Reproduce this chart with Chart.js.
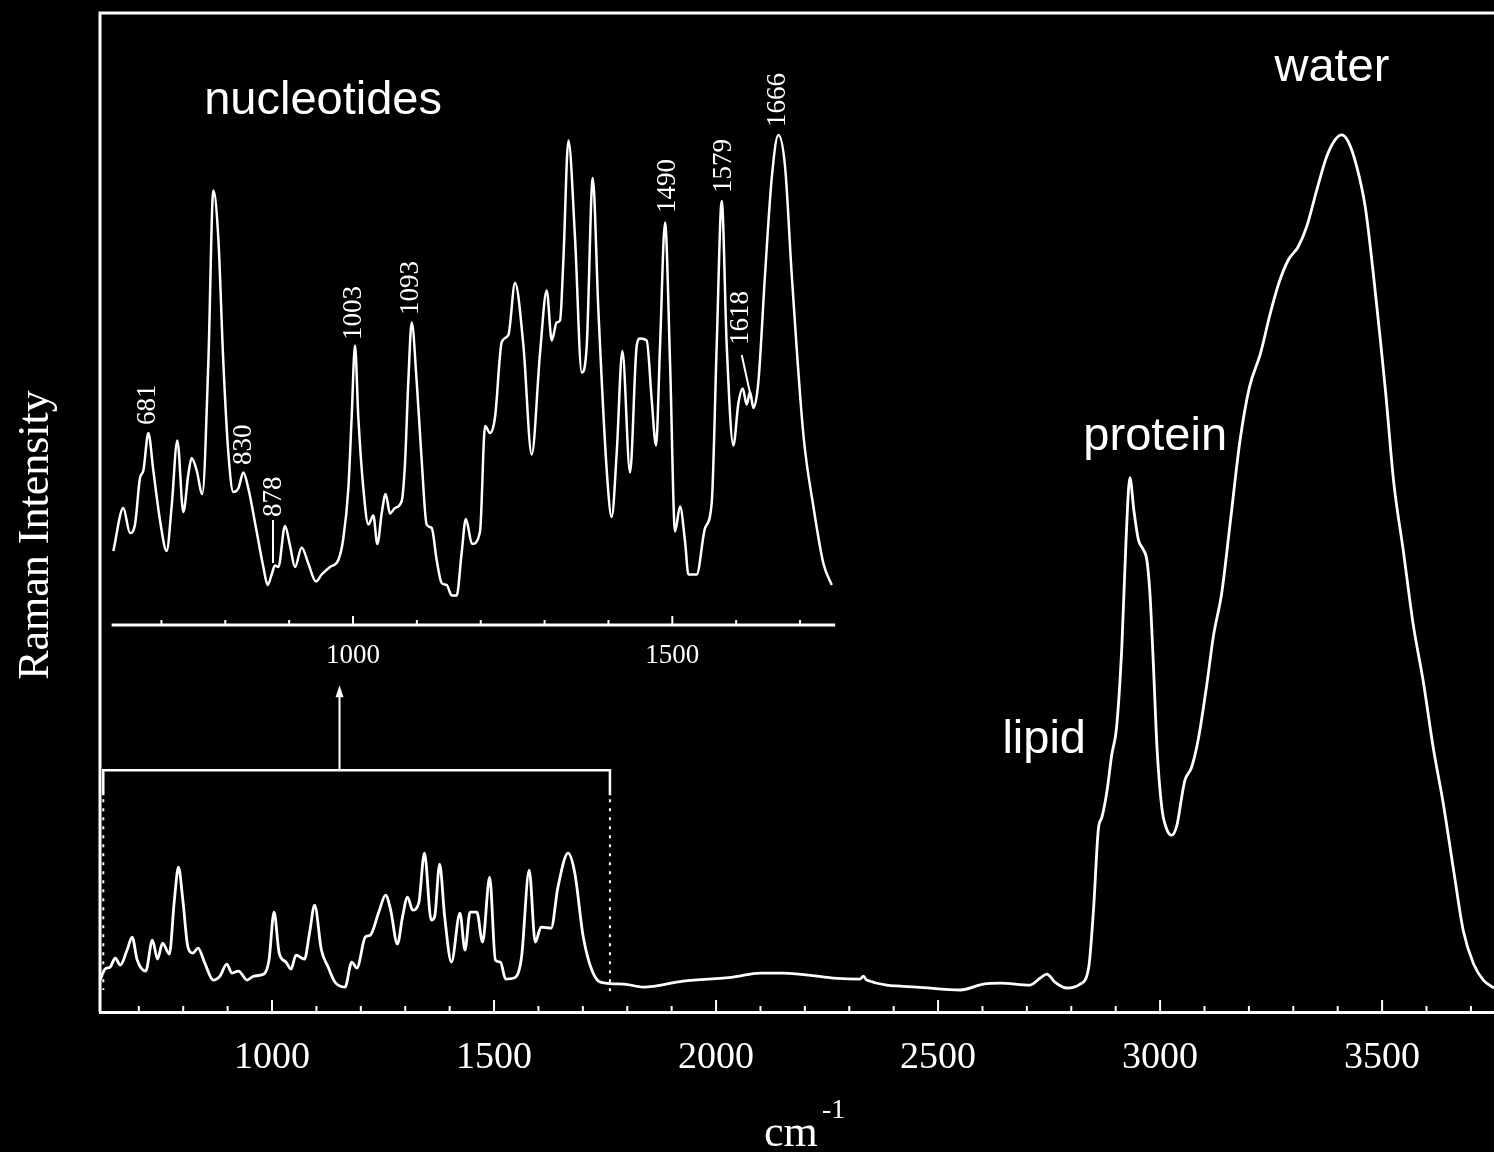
<!DOCTYPE html>
<html>
<head>
<meta charset="utf-8">
<script src="https://cdn.jsdelivr.net/npm/chart.js@4.4.1/dist/chart.umd.min.js"></script>
<style>
    html, body { margin: 0; padding: 0; background: #000; }
    #wrap { width: 1494px; height: 1152px; }
</style>
</head>
<body>
<div id="wrap"><canvas id="ramanChart" width="1494" height="1152"></canvas></div>
<script>
// full spectrum (cm-1 / relative intensity)
const mainWavenumber = [
    612.7, 624.1, 635.5, 647, 658.4, 673.6, 685, 696.4, 715.5, 730.7, 742.1, 753.5, 768.7, 780.1, 789.3, 799.2,
    810.6, 822, 833.4, 848.6, 867.6, 882.9, 898.1, 909.5, 924.7, 943.8, 959, 981.8, 993.2, 1004.6, 1016.1, 1031.3,
    1042.7, 1054.1, 1073.1, 1084.5, 1096, 1111.2, 1126.4, 1141.6, 1164.4, 1179.7, 1191.1, 1210.1, 1221.5, 1240.5,
    1255.8, 1267.2, 1282.4, 1293.8, 1305.2, 1316.7, 1330.4, 1343.3, 1358.5, 1366.1, 1377.5, 1388.9, 1404.1, 1423.2,
    1434.6, 1446, 1461.2, 1474.2, 1490.2, 1503.1, 1514.5, 1526, 1545, 1561.7, 1579.2, 1592.9, 1605.8, 1628.6, 1643.9,
    1666.7, 1681.9, 1701, 1727.6, 1750.4, 1792.2, 1836, 1926, 2039, 2099, 2152, 2264, 2324, 2332, 2339, 2452, 2550,
    2602, 2640, 2707, 2730, 2745, 2763, 2790, 2820, 2839, 2850, 2861, 2869, 2880, 2891, 2902, 2914, 2923, 2932, 2941,
    2951, 2962, 2970, 2977, 2985, 2993, 3004, 3015, 3026, 3038, 3049, 3056, 3071, 3086, 3105, 3120, 3139, 3158, 3180,
    3201, 3226, 3248, 3267, 3289, 3311, 3330, 3353, 3375, 3394, 3409, 3424, 3443, 3462, 3480, 3496, 3508, 3526, 3548,
    3570, 3593, 3615, 3638, 3661, 3683, 3706, 3728, 3752
];
const mainIntensity = [
    3.2, 4.3, 4.5, 5.4, 4.7, 6.2, 7.5, 5.2, 4.1, 7.2, 5.3, 6.9, 5.8, 11.2, 14.5, 11.2,
    6.5, 5.9, 6.4, 4.9, 3.2, 3.6, 4.8, 3.9, 4.1, 3.2, 3.6, 3.8, 5.2, 10.0, 5.9, 5.0,
    4.3, 5.7, 5.3, 7.9, 10.7, 6.2, 4.5, 3.0, 2.5, 5.0, 4.4, 7.5, 7.7, 10.0,
    11.7, 10.2, 6.8, 9.5, 11.5, 10.2, 10.9, 15.9, 9.2, 9.5, 14.8, 9.5, 5.0, 9.9,
    6.2, 10.0, 10.0, 7.0, 13.5, 5.2, 5.0, 3.3, 3.4, 5.4, 14.2, 7.0, 8.5, 8.4, 12.5,
    15.9, 13.9, 7.5, 3.5, 2.9, 2.8, 2.5, 3.1, 3.5, 3.9, 3.9, 3.4, 3.3, 3.6, 3.2, 2.5, 2.2,
    2.8, 2.9, 2.7, 3.4, 3.8, 3.0, 2.4, 2.8, 4.4, 10.2, 18.3, 19.5, 22.0, 25.7, 28.5, 36.7, 46.9, 53.5, 50.2,
    47.3, 46.3, 45.3, 42.0, 34.7, 26.5, 20.4, 18.3, 17.7, 18.7, 21.6, 23.2, 24.5, 27.3, 32.7, 37.6, 42.0, 49.0, 57.2,
    62.5, 65.9, 69.9, 72.9, 75.3, 76.6, 78.6, 82.3, 85.6, 87.3, 87.8, 87.1, 84.6, 80.6, 74.0, 67.3, 62.0, 53.1, 46.1,
    38.8, 33.0, 26.5, 20.8, 14.2, 8.1, 4.8, 3.2, 2.4
];

// enlarged nucleotide region (inset)
const insetWavenumber = [
    624.7, 640.3, 650.8, 658.6, 666.4, 671.7, 679.5, 687.3, 697.8, 708.2, 716.0, 724.9, 734.3, 742.1, 747.3, 755.2,
    764.0, 773.4, 781.3, 789.1, 797.0, 804.8, 812.6, 820.4, 828.3, 836.1, 849.1, 859.6, 866.4, 872.6, 877.8, 883.1,
    893.5, 901.3, 909.2, 919.6, 930.0, 942.0, 950.9, 964.0, 977.0, 984.8, 992.7, 997.9, 1003.1, 1008.3, 1016.2,
    1024.0, 1031.8, 1038.1, 1044.9, 1051.1, 1057.9, 1065.8, 1076.2, 1081.4, 1086.6, 1091.9, 1099.7, 1107.5, 1115.3,
    1123.2, 1131.0, 1138.8, 1146.7, 1154.5, 1162.3, 1170.1, 1176.7, 1186.5, 1198.9, 1206.8, 1214.6, 1222.4, 1232.9,
    1243.3, 1253.7, 1266.8, 1279.8, 1292.9, 1303.3, 1311.2, 1319.0, 1324.2, 1329.4, 1337.3, 1347.7, 1358.1, 1366.0,
    1375.4, 1384.2, 1397.3, 1405.1, 1412.9, 1421.8, 1433.8, 1444.3, 1449.5, 1459.9, 1467.7, 1474.5, 1480.8, 1488.6,
    1496.5, 1504.3, 1512.1, 1520.0, 1525.2, 1538.2, 1551.3, 1561.7, 1569.5, 1577.4, 1585.2, 1595.6, 1603.5, 1610.3,
    1616.5, 1621.7, 1627.0, 1634.8, 1645.2, 1655.7, 1666.1, 1676.6, 1687.0, 1705.3, 1720.9, 1736.6, 1749.6
];
const insetIntensity = [
    14.8, 23.4, 18.4, 20.1, 29.4, 30.9, 38.4, 30.9, 20.9, 14.8, 23.7, 36.9, 22.6, 30.1, 33.4, 30.9,
    26.2, 52.3, 86.9, 77.3, 52.3, 34.4, 26.6, 27.3, 30.5, 27.3, 18.7, 11.6, 8.0, 10.1, 11.9, 11.6,
    19.8, 15.9, 11.6, 15.5, 12.3, 8.7, 10.1, 11.6, 13.0, 17.3, 27.3, 41.6, 55.9, 41.6, 27.3,
    20.1, 21.9, 16.2, 22.3, 26.2, 22.3, 23.4, 24.8, 32.3, 48.7, 60.5, 48.7, 33.0, 20.1,
    19.4, 13.0, 8.4, 8.0, 5.9, 5.9, 14.4, 21.2, 16.2, 18.7, 39.8, 38.4, 41.6, 56.6,
    58.0, 68.4, 55.9, 34.1, 54.4, 66.9, 56.9, 60.5, 60.9, 73.0, 96.9, 77.3, 50.5, 55.9,
    89.4, 63.0, 30.9, 21.6, 34.4, 54.8, 30.5, 55.9, 57.3, 56.9, 45.1, 35.9, 55.9, 80.5,
    52.3, 18.7, 23.7, 16.6, 10.1, 10.1, 19.4, 24.4, 55.9, 84.8, 55.9, 35.9, 44.4, 47.3,
    44.1, 46.6, 43.4, 48.7, 70.1, 89.4, 98.0, 91.6, 70.1, 38.0, 23.7, 12.3, 8.0
];

// peak labels on the inset: text, wavenumber of the label, intensity where the text starts
const peakLabels = ['681', '830', '878', '1003', '1093', '1490', '1579', '1618', '1666'];
const peakLabelWn = [679, 829, 875.5, 1001.6, 1090.8, 1493, 1581, 1607.6, 1665.5];
const peakLabelLevel = [40, 32, 21.6, 57, 62, 82.4, 86.4, 56, 99.6];

// axis ticks
const mainTickLabels = [1000, 1500, 2000, 2500, 3000, 3500];
const mainMinorTicks = [700, 800, 900, 1100, 1200, 1300, 1400, 1600, 1700, 1800, 1900, 2100, 2200, 2300, 2400,
    2600, 2700, 2800, 2900, 3100, 3200, 3300, 3400, 3600, 3700];
const insetTickLabels = [1000, 1500];
const insetMinorTicks = [700, 800, 900, 1100, 1200, 1300, 1400, 1600, 1700];

// band names
const bandNames = ['nucleotides', 'water', 'protein', 'lipid'];
const bandWn = [1115, 3387, 2989, 2739];
const bandLevel = [91.2, 94.5, 57.6, 27.2];

const serif = '"Liberation Serif", "Times New Roman", serif';
const sans = '"Liberation Sans", Arial, sans-serif';

const mainPoints = mainWavenumber.map((v, i) => ({ x: v, y: mainIntensity[i] }));
const insetPoints = insetWavenumber.map((v, i) => ({ x: v, y: insetIntensity[i] }));

const overlay = {
    id: 'overlay',
    beforeDraw(chart) {
        const c = chart.ctx;
        c.save();
        c.fillStyle = '#000';
        c.fillRect(0, 0, chart.width, chart.height);
        c.restore();
    },
    afterDatasetsDraw(chart) {
        const c = chart.ctx;
        const a = chart.chartArea;
        const sx = chart.scales.x, sy = chart.scales.y;
        const ix = chart.scales.x2, iy = chart.scales.y2;
        c.save();
        c.strokeStyle = '#fff';
        c.fillStyle = '#fff';
        c.lineCap = 'butt';

        // frame (top + left)
        c.lineWidth = 3;
        c.beginPath();
        c.moveTo(a.left, a.bottom);
        c.lineTo(a.left, a.top);
        c.lineTo(a.right, a.top);
        c.stroke();

        // main ticks pointing inward
        c.lineWidth = 2;
        mainMinorTicks.concat(mainTickLabels).forEach(v => {
            const px = sx.getPixelForValue(v);
            const len = mainTickLabels.includes(v) ? 12 : 6;
            c.beginPath();
            c.moveTo(px, a.bottom);
            c.lineTo(px, a.bottom - len);
            c.stroke();
        });

        // inset axis
        const y0 = iy.getPixelForValue(0);
        c.lineWidth = 3;
        c.beginPath();
        c.moveTo(ix.getPixelForValue(622), y0);
        c.lineTo(ix.getPixelForValue(1755), y0);
        c.stroke();
        c.lineWidth = 2;
        insetMinorTicks.concat(insetTickLabels).forEach(v => {
            const px = ix.getPixelForValue(v);
            const len = insetTickLabels.includes(v) ? 9 : 5;
            c.beginPath();
            c.moveTo(px, y0);
            c.lineTo(px, y0 - len);
            c.stroke();
        });
        c.font = '27px ' + serif;
        c.textAlign = 'center';
        c.textBaseline = 'middle';
        insetTickLabels.forEach(v => c.fillText(String(v), ix.getPixelForValue(v), y0 + 31));

        // bracket marking the enlarged region + arrow
        const bl = sx.getPixelForValue(620), br = sx.getPixelForValue(1761);
        const bt = sy.getPixelForValue(24.2), bs = sy.getPixelForValue(21.7);
        c.lineWidth = 2.5;
        c.beginPath();
        c.moveTo(bl, bs);
        c.lineTo(bl, bt);
        c.lineTo(br, bt);
        c.lineTo(br, bs);
        c.stroke();
        c.setLineDash([3, 6]);
        c.lineWidth = 2;
        c.beginPath();
        c.moveTo(bl, bs + 4);
        c.lineTo(bl, sy.getPixelForValue(2.2));
        c.moveTo(br, bs + 4);
        c.lineTo(br, sy.getPixelForValue(1.7));
        c.stroke();
        c.setLineDash([]);
        const ax = sx.getPixelForValue(1152), at = sy.getPixelForValue(32.5);
        c.lineWidth = 2;
        c.beginPath();
        c.moveTo(ax, bt);
        c.lineTo(ax, at + 8);
        c.stroke();
        c.beginPath();
        c.moveTo(ax, at - 2);
        c.lineTo(ax + 4, at + 10);
        c.lineTo(ax - 4, at + 10);
        c.closePath();
        c.fill();

        // peak labels (rotated)
        c.font = '27px ' + serif;
        c.textAlign = 'left';
        c.textBaseline = 'middle';
        peakLabels.forEach((t, i) => {
            const px = ix.getPixelForValue(peakLabelWn[i]);
            const py = iy.getPixelForValue(peakLabelLevel[i]);
            c.save();
            c.translate(px, py);
            c.rotate(-Math.PI / 2);
            c.fillText(t, 0, 0);
            c.restore();
        });
        // leader lines for 878 and 1618
        c.lineWidth = 2;
        c.beginPath();
        c.moveTo(ix.getPixelForValue(874.7), iy.getPixelForValue(21));
        c.lineTo(ix.getPixelForValue(874.7), iy.getPixelForValue(12.4));
        c.moveTo(ix.getPixelForValue(1608.7), iy.getPixelForValue(54));
        c.lineTo(ix.getPixelForValue(1621.7), iy.getPixelForValue(46.4));
        c.stroke();

        // band names
        c.font = '47px ' + sans;
        c.textAlign = 'center';
        c.textBaseline = 'middle';
        bandNames.forEach((t, i) => {
            c.fillText(t, sx.getPixelForValue(bandWn[i]), sy.getPixelForValue(bandLevel[i]));
        });

        // axis titles
        c.font = '44px ' + serif;
        c.textAlign = 'left';
        c.textBaseline = 'alphabetic';
        c.fillText('cm', 764, 1146);
        c.font = '28px ' + serif;
        c.fillText('-1', 822, 1118);
        c.save();
        c.translate(48, 535);
        c.rotate(-Math.PI / 2);
        c.font = '44px ' + serif;
        c.textAlign = 'center';
        c.fillText('Raman Intensity', 0, 0);
        c.restore();

        c.restore();
    }
};

new Chart(document.getElementById('ramanChart'), {
    type: 'line',
    data: {
        datasets: [{
            data: mainPoints,
            xAxisID: 'x',
            yAxisID: 'y',
            borderColor: '#ffffff',
            borderWidth: 2.8,
            pointRadius: 0,
            fill: false,
            cubicInterpolationMode: 'monotone'
        }, {
            data: insetPoints,
            xAxisID: 'x2',
            yAxisID: 'y2',
            borderColor: '#ffffff',
            borderWidth: 2.5,
            pointRadius: 0,
            fill: false,
            cubicInterpolationMode: 'monotone'
        }]
    },
    options: {
        responsive: false,
        animation: false,
        devicePixelRatio: 1,
        layout: { padding: { left: 100, top: 13, right: 0, bottom: 0 } },
        plugins: { legend: { display: false }, tooltip: { enabled: false } },
        scales: {
            x: {
                type: 'linear',
                position: 'bottom',
                min: 612.6,
                max: 3752,
                grid: { display: false },
                border: { display: true, color: '#ffffff', width: 3 },
                afterBuildTicks: function (scale) {
                    scale.ticks = mainTickLabels.map(v => ({ value: v }));
                },
                afterFit: function (scale) {
                    scale.height = 140;
                },
                ticks: {
                    color: '#ffffff',
                    font: { family: serif, size: 38 },
                    padding: 15,
                    maxRotation: 0,
                    autoSkip: false,
                    callback: function (value) { return String(value); }
                }
            },
            y: { display: false, min: 0, max: 100 },
            x2: { type: 'linear', display: false, min: 603.8, max: 2786.7 },
            y2: { display: false, min: -77.4, max: 122.4 }
        }
    },
    plugins: [overlay]
});
</script>
</body>
</html>
